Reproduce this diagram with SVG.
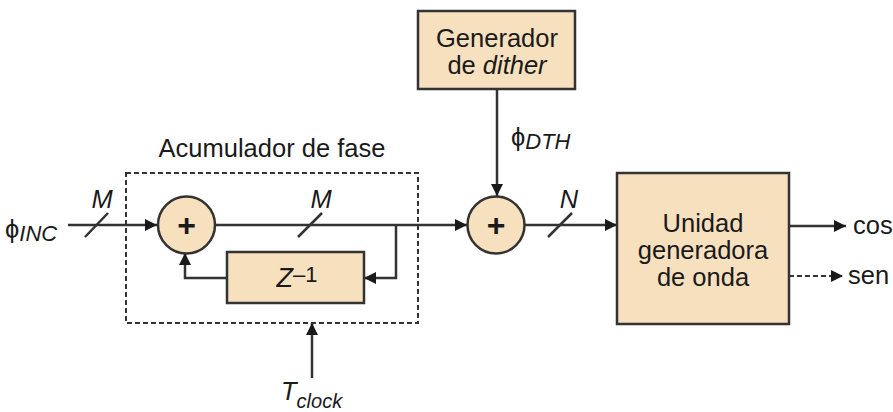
<svg xmlns="http://www.w3.org/2000/svg" width="893" height="412" viewBox="0 0 893 412">
<defs>
<marker id="ah" viewBox="0 0 12 12" refX="12" refY="6" markerWidth="12" markerHeight="12" markerUnits="userSpaceOnUse" orient="auto">
<path d="M0,0 L12,6 L0,12 Z" fill="#1a1a1a"/>
</marker>
<style>
.blk{fill:#f6e0be;stroke:#333;stroke-width:2.5}
.ln{fill:none;stroke:#333;stroke-width:2.5}
.dl{fill:none;stroke:#333;stroke-width:2;stroke-dasharray:5 3}
.t{font-family:"Liberation Sans",Arial,sans-serif;font-size:25.5px;fill:#1a1a1a}
.i{font-style:italic}
.plus{font-family:"Liberation Sans",Arial,sans-serif;font-size:32px;font-weight:bold;fill:#1a1a1a}
</style>
</defs>
<rect width="893" height="412" fill="#fff"/>
<g id="accumulator-box">
<rect class="dl" x="126" y="173" width="292" height="150"/>
<text class="t" x="272" y="157" text-anchor="middle">Acumulador de fase</text>
</g>
<g id="connectors">
<line class="ln" x1="68" y1="225" x2="157" y2="225" marker-end="url(#ah)"/>
<line class="ln" x1="85" y1="237" x2="108" y2="213"/>
<line class="ln" x1="215" y1="225" x2="467" y2="225" marker-end="url(#ah)"/>
<line class="ln" x1="298" y1="237" x2="322" y2="213"/>
<polyline class="ln" points="396,225 396,278 364,278" marker-end="url(#ah)"/>
<polyline class="ln" points="227,278 185,278 185,253" marker-end="url(#ah)"/>
<line class="ln" x1="497" y1="89" x2="497" y2="196" marker-end="url(#ah)"/>
<line class="ln" x1="525" y1="225" x2="617" y2="225" marker-end="url(#ah)"/>
<line class="ln" x1="548" y1="237" x2="572" y2="213"/>
<line class="ln" x1="789" y1="226" x2="846" y2="226" marker-end="url(#ah)"/>
<line class="dl" x1="789" y1="276" x2="843" y2="276" marker-end="url(#ah)"/>
<line class="ln" x1="312" y1="378" x2="312" y2="323" marker-end="url(#ah)"/>
</g>
<g id="labels">
<text class="t" x="5" y="238"><tspan>ϕ</tspan><tspan class="i" font-size="22" dy="3">INC</tspan></text>
<text class="t i" x="102" y="208" text-anchor="middle" font-size="23">M</text>
<text class="t i" x="321" y="208" text-anchor="middle" font-size="23">M</text>
<text class="t i" x="569" y="208" text-anchor="middle" font-size="23">N</text>
<text class="t" x="511" y="146"><tspan>ϕ</tspan><tspan class="i" font-size="22" dy="3">DTH</tspan></text>
<text class="t" x="281" y="400"><tspan class="i">T</tspan><tspan class="i" font-size="20" dy="8">clock</tspan></text>
<text class="t" x="853" y="234">cos</text>
<text class="t" x="848" y="284">sen</text>
</g>
<g id="sum1">
<circle class="blk" cx="186.5" cy="225" r="28.5"/>
<text class="plus" x="186.5" y="236" text-anchor="middle">+</text>
</g>
<g id="delay">
<rect class="blk" x="227" y="252" width="137" height="51"/>
<text class="t" x="297" y="287" text-anchor="middle"><tspan class="i" font-size="27">Z</tspan><tspan font-size="22" dy="-5">–1</tspan></text>
</g>
<g id="dither">
<rect class="blk" x="418" y="11" width="157" height="78"/>
<text class="t" x="497" y="47" text-anchor="middle">Generador</text>
<text class="t" x="497" y="74" text-anchor="middle">de <tspan class="i">dither</tspan></text>
</g>
<g id="sum2">
<circle class="blk" cx="496" cy="225" r="28.5"/>
<text class="plus" x="496" y="236" text-anchor="middle">+</text>
</g>
<g id="wavegen">
<rect class="blk" x="617" y="173" width="172" height="151"/>
<text class="t" x="703" y="232" text-anchor="middle">Unidad</text>
<text class="t" x="703" y="259" text-anchor="middle">generadora</text>
<text class="t" x="703" y="286" text-anchor="middle">de onda</text>
</g>
</svg>
